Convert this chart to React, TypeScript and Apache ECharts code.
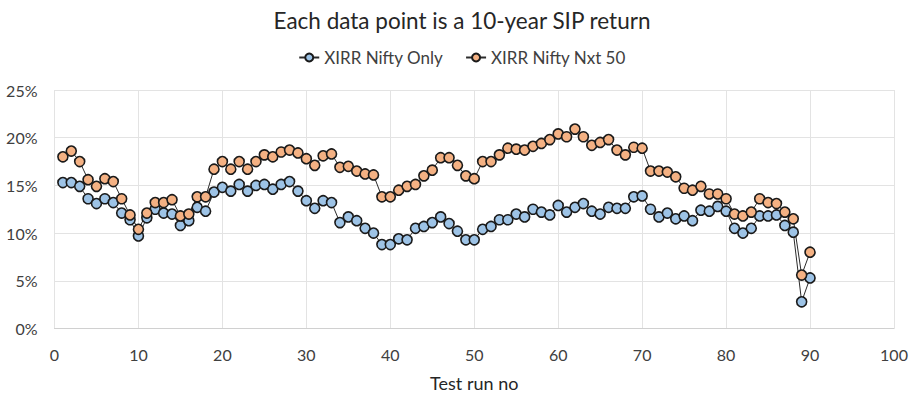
import React, { useEffect, useRef } from "react";
import * as echarts from "echarts";

const title = "Each data point is a 10-year SIP return";
const seriesNames = ["XIRR Nifty Only", "XIRR Nifty Nxt 50"];
const xAxisName = "Test run no";

const niftyOnly = [
  15.3, 15.3, 14.9, 13.6, 13.1, 13.6, 13.2, 12.1, 11.4, 9.7,
  11.6, 12.5, 12.1, 12.0, 10.8, 11.3, 12.7, 12.3, 14.3, 14.8,
  14.4, 15.1, 14.4, 15.0, 15.1, 14.6, 15.1, 15.4, 14.4, 13.4,
  12.6, 13.4, 13.2, 11.1, 11.7, 11.3, 10.5, 10.0, 8.8, 8.8,
  9.4, 9.3, 10.5, 10.7, 11.1, 11.7, 11.0, 10.2, 9.3, 9.3,
  10.4, 10.7, 11.4, 11.4, 12.0, 11.7, 12.5, 12.2, 11.9, 12.9,
  12.2, 12.7, 13.1, 12.3, 12.0, 12.7, 12.6, 12.6, 13.8, 13.9,
  12.5, 11.7, 12.1, 11.5, 11.8, 11.3, 12.4, 12.3, 12.8, 12.3,
  10.5, 10.0, 10.5, 11.8, 11.8, 11.9, 10.8, 10.1, 2.8, 5.3,
];

const niftyNxt50 = [
  18.0, 18.6, 17.5, 15.6, 14.9, 15.7, 15.4, 13.6, 11.9, 10.4,
  12.1, 13.2, 13.2, 13.5, 11.8, 12.0, 13.8, 13.8, 16.7, 17.5,
  16.7, 17.5, 16.7, 17.5, 18.2, 18.0, 18.5, 18.7, 18.4, 17.8,
  17.1, 18.1, 18.3, 16.9, 17.0, 16.5, 16.2, 16.1, 13.8, 13.8,
  14.5, 14.9, 15.1, 16.0, 16.6, 17.9, 17.9, 17.1, 16.0, 15.7,
  17.5, 17.5, 18.2, 18.9, 18.8, 18.7, 19.1, 19.4, 19.8, 20.4,
  20.1, 20.9, 20.1, 19.2, 19.5, 19.8, 18.7, 18.2, 19.0, 18.9,
  16.5, 16.5, 16.4, 15.9, 14.7, 14.5, 14.9, 14.1, 14.1, 13.6,
  12.0, 11.8, 12.2, 13.6, 13.2, 13.1, 12.2, 11.5, 5.6, 8.0,
];

const testRuns = niftyOnly.map((_, i) => i + 1);

const FONT = "Lato, 'Open Sans', sans-serif";

export default function App() {
  const ref = useRef<HTMLDivElement>(null);
  useEffect(() => {
    if (!ref.current) return;
    const chart = echarts.init(ref.current, null, { renderer: "svg" });
    const mk = (name: string, vals: number[], fill: string) => ({
      name,
      type: "line",
      data: testRuns.map((r, i) => [r, vals[i]]),
      symbol: "circle",
      symbolSize: 10,
      lineStyle: { color: "#2b2b2b", width: 1 },
      itemStyle: { color: fill, borderColor: "#1a1a1a", borderWidth: 1.6 },
    });
    chart.setOption({
      animation: false,
      backgroundColor: "#ffffff",
      textStyle: { fontFamily: FONT },
      title: {
        text: title,
        left: "center",
        top: 4,
        textStyle: { fontFamily: FONT, fontSize: 22.5, fontWeight: "normal", color: "#262626" },
      },
      legend: {
        top: 44,
        left: "center",
        itemGap: 22,
        itemWidth: 20,
        itemHeight: 10,
        textStyle: { fontFamily: FONT, fontSize: 17, color: "#404040" },
        data: seriesNames,
      },
      grid: { left: 54.5, right: 30, top: 90, bottom: 69.5, containLabel: false },
      xAxis: {
        type: "value",
        min: 0,
        max: 100,
        interval: 10,
        name: xAxisName,
        nameLocation: "middle",
        nameGap: 45,
        nameTextStyle: { fontFamily: FONT, fontSize: 18, color: "#262626" },
        axisLine: { show: true, lineStyle: { color: "#d0d0d0", width: 1 } },
        axisTick: { show: false },
        axisLabel: { fontFamily: FONT, fontSize: 16, color: "#404040", margin: 18 },
        splitLine: { show: true, lineStyle: { color: "#e3e3e3", width: 1 } },
      },
      yAxis: {
        type: "value",
        min: 0,
        max: 25,
        interval: 5,
        axisLine: { show: false },
        axisTick: { show: false },
        axisLabel: {
          fontFamily: FONT,
          fontSize: 16,
          color: "#404040",
          margin: 17,
          formatter: (v: number) => v + "%",
        },
        splitLine: { show: true, lineStyle: { color: "#e3e3e3", width: 1 } },
      },
      series: [
        mk(seriesNames[0], niftyOnly, "#9dc3e6"),
        mk(seriesNames[1], niftyNxt50, "#f4b183"),
      ],
    });
    return () => chart.dispose();
  }, []);
  return (
    <div
      ref={ref}
      style={{ position: "absolute", left: 0, top: 0, width: 924, height: 398 }}
    />
  );
}
